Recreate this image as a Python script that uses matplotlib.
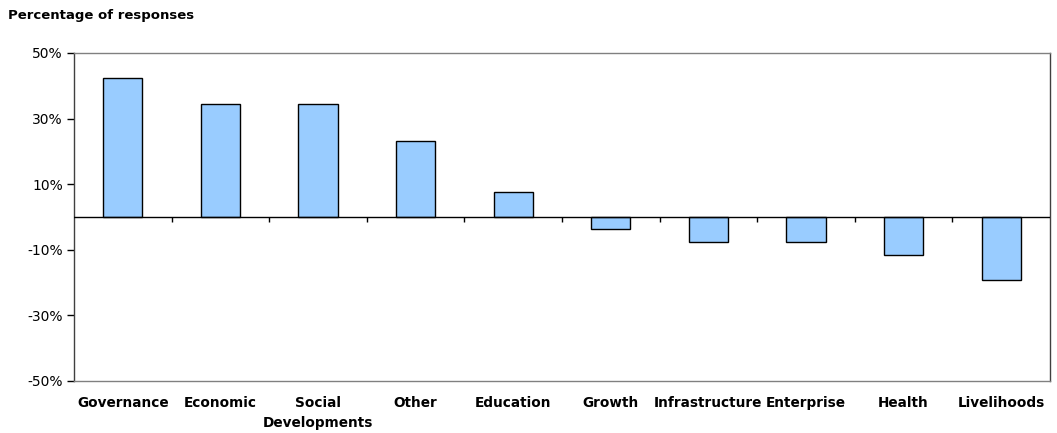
import matplotlib.pyplot as plt
import numpy as np

# Data
categories = ['Governance', 'Economic', 'Social\nDevelopments', 'Other', 'Education',
              'Growth', 'Infrastructure', 'Enterprise', 'Health', 'Livelihoods']
values = [42.3, 34.6, 34.6, 23.1, 7.7, -3.8, -7.7, -7.7, -11.5, -19.2]
yticks = [-50, -30, -10, 10, 30, 50]

plt.rcParams['font.family'] = ['DejaVu Sans']

fig = plt.figure(figsize=(10.57, 4.33), dpi=100)
ax = fig.add_axes([74 / 1057, 52 / 433, 976 / 1057, 328 / 433])

x = np.arange(len(categories))
ax.bar(x, values, width=0.4, color='#99CCFF', edgecolor='black', linewidth=1, zorder=2)
ax.axhline(0, color='black', linewidth=1, zorder=3)

# category separator ticks hanging off the zero line
bounds = x[:-1] + 0.5
ax.vlines(bounds, 0, -1.6, color='black', linewidth=1, zorder=3)

ax.set_xlim(-0.5, len(categories) - 0.5)
ax.set_ylim(-50, 50)
ax.set_yticks(yticks)
ax.set_yticklabels([f'{v}%' for v in yticks], fontsize=10)
ax.tick_params(axis='y', direction='out', length=5, width=1, pad=3)

ax.set_xticks(x)
ax.set_xticklabels(categories, fontsize=9.8, fontweight='bold', va='top', linespacing=1.5)
ax.tick_params(axis='x', length=0, pad=11)

for side in ['top', 'bottom']:
    ax.spines[side].set_color('#808080')
for side in ['left', 'right']:
    ax.spines[side].set_color('#404040')
for s in ax.spines.values():
    s.set_linewidth(1)

fig.text(8 / 1057, 1 - 15 / 433, 'Percentage of responses', fontsize=9.5,
         fontweight='bold', va='center', ha='left')

plt.savefig('out.png', dpi=100)
